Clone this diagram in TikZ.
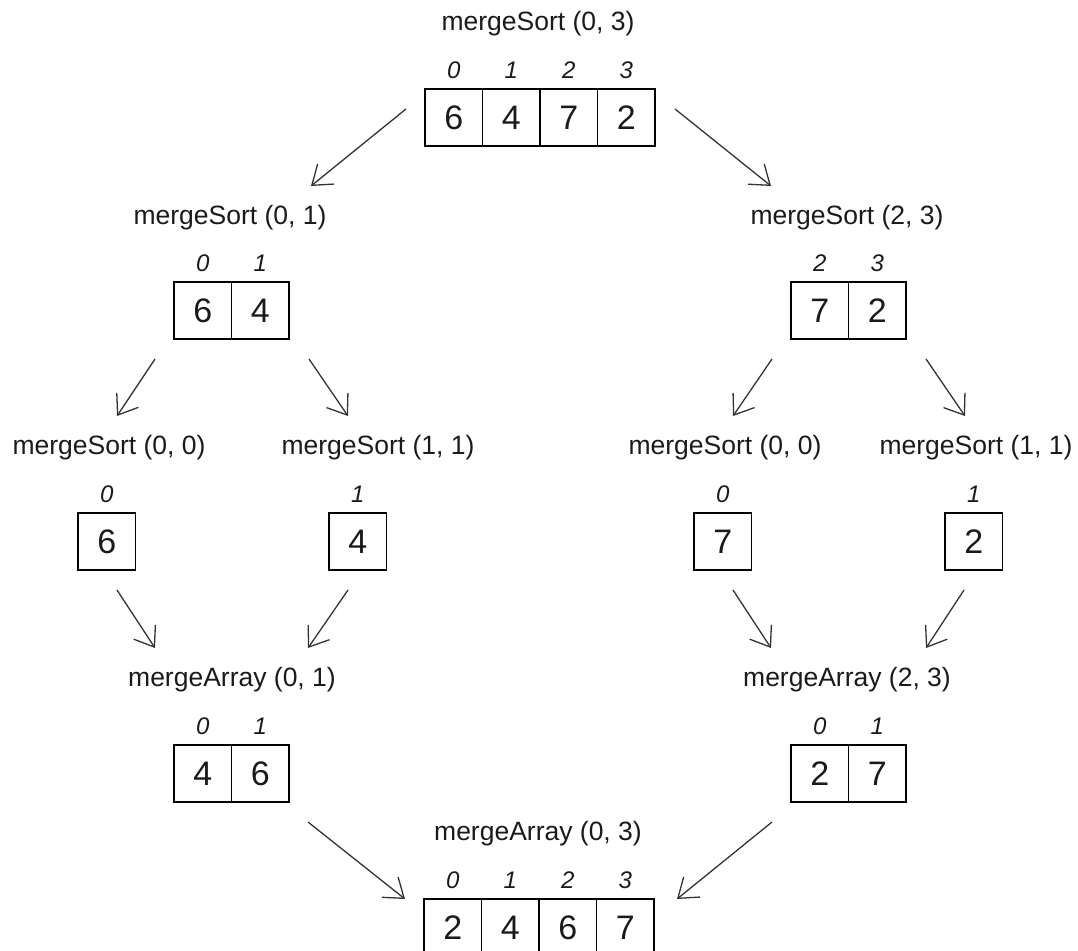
\documentclass[tikz,border=0pt]{standalone}
\usepackage{fontspec}
\setmainfont{Liberation Sans}
\usetikzlibrary{arrows.meta}
\definecolor{linegray}{HTML}{333333}
\definecolor{txt}{HTML}{1A1A1A}
\tikzset{
  cell/.style={draw=black, line width=1.3pt, minimum width=57.5pt, minimum height=57pt,
    inner sep=0pt, font=\fontsize{34}{34}\selectfont, text=txt},
  idx/.style={inner sep=0pt, font=\fontsize{24}{24}\selectfont\itshape, text=txt},
  ttl/.style={inner sep=0pt, font=\fontsize{26.5}{26.5}\selectfont, text=txt},
  arr/.style={draw=linegray, line width=1.3pt, -{Straight Barb[length=18pt, width=26pt, line width=1.3pt]}},
}
\newcommand{\drawarr}[5]{%
  \foreach \v [count=\i] in {#4} {
    \node[cell] (#1-\i) at ({#2+(\i-0.5)*57.5}, {#3+28.5}) {\v};
  }
  \foreach \k [count=\i] in {#5} {
    \node[idx] (#1-i\i) at ({#2+(\i-0.5)*57.5}, {#3-19}) {\k};
  }
}
\begin{document}
\begin{tikzpicture}[x=1pt, y=-1pt]
\useasboundingbox (0,0) rectangle (1078,950);
\clip (0,0) rectangle (1078,950);
% titles
\node[ttl] (t0) at (538,24) {mergeSort (0, 3)};
\node[ttl] (t1) at (230,218) {mergeSort (0, 1)};
\node[ttl] (t2) at (847,218) {mergeSort (2, 3)};
\node[ttl] (t3) at (109,448) {mergeSort (0, 0)};
\node[ttl] (t4) at (378,448) {mergeSort (1, 1)};
\node[ttl] (t5) at (725,448) {mergeSort (0, 0)};
\node[ttl] (t6) at (976,448) {mergeSort (1, 1)};
\node[ttl] (t7) at (232,680) {mergeArray (0, 1)};
\node[ttl] (t8) at (847,680) {mergeArray (2, 3)};
\node[ttl] (t9) at (538,834) {mergeArray (0, 3)};
% arrays
\drawarr{a0}{425}{89}{6,4,7,2}{0,1,2,3}
\drawarr{a1}{174}{282}{6,4}{0,1}
\drawarr{a2}{791}{282}{7,2}{2,3}
\drawarr{a3}{78}{513}{6}{0}
\drawarr{a4}{329}{513}{4}{1}
\drawarr{a5}{694}{513}{7}{0}
\drawarr{a6}{945}{513}{2}{1}
\drawarr{a7}{174}{745}{4,6}{0,1}
\drawarr{a8}{791}{745}{2,7}{0,1}
\drawarr{a9}{424}{899}{2,4,6,7}{0,1,2,3}
% arrow end points
\coordinate (p1s) at (406,109);  \coordinate (p1e) at (311,186);
\coordinate (p2s) at (675,109);  \coordinate (p2e) at (771,186);
\coordinate (p3s) at (155,359);  \coordinate (p3e) at (117,416);
\coordinate (p4s) at (309,359);  \coordinate (p4e) at (348,416);
\coordinate (p5s) at (772,359);  \coordinate (p5e) at (733,416);
\coordinate (p6s) at (926,359);  \coordinate (p6e) at (965,416);
\coordinate (p7s) at (117,590);  \coordinate (p7e) at (155,648);
\coordinate (p8s) at (348,590);  \coordinate (p8e) at (308,648);
\coordinate (p9s) at (733,590);  \coordinate (p9e) at (771,648);
\coordinate (p10s) at (964,590); \coordinate (p10e) at (926,648);
\coordinate (p11s) at (308,822); \coordinate (p11e) at (405,899);
\coordinate (p12s) at (772,822); \coordinate (p12e) at (677,899);
\foreach \n in {1,...,12} {
  \draw[arr] (p\n s) -- (p\n e);
}
\end{tikzpicture}
\end{document}
